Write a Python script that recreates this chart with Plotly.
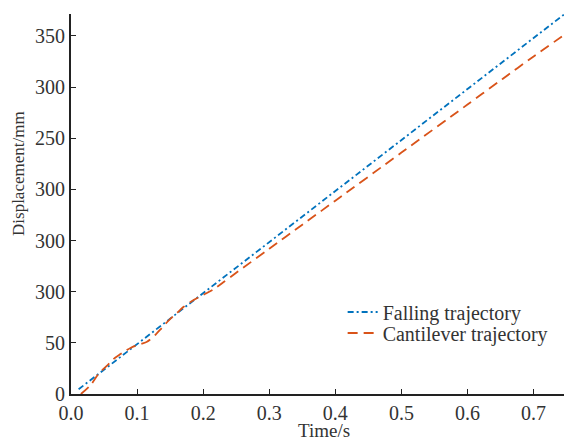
import plotly.graph_objects as go

# Falling trajectory (blue, dash-dot)
fall_t = [0.0115, 0.05, 0.1, 0.15, 0.2, 0.3, 0.4, 0.5, 0.6, 0.7, 0.746]
fall_y = [4.6, 23.8, 48.8, 73.7, 98.6, 148.5, 198.4, 248.3, 298.2, 348.1, 371]

# Cantilever trajectory (red, dashed)
cant_t = [0.015, 0.03, 0.042, 0.055, 0.064, 0.075, 0.082, 0.09, 0.097, 0.106, 0.115,
          0.1275, 0.138, 0.148, 0.16, 0.17, 0.182, 0.193, 0.205, 0.216, 0.23, 0.25,
          0.3, 0.35, 0.4, 0.5, 0.6, 0.653, 0.7, 0.746]
cant_y = [0, 9, 20, 28, 34, 39, 42, 45, 47, 49, 51,
          57.7, 65, 72, 79, 85, 90.5, 94.5, 98.5, 102.5, 109, 118.5,
          142, 165.5, 189, 236, 283, 308, 330, 351]

x_ticks = [0.0, 0.1, 0.2, 0.3, 0.4, 0.5, 0.6, 0.7]
x_labels = ["0.0", "0.1", "0.2", "0.3", "0.4", "0.5", "0.6", "0.7"]
y_ticks = [0, 50, 100, 150, 200, 250, 300, 350]
y_labels = ["0", "50", "300", "300", "300", "250", "300", "350"]

x_title = "Time/s"
y_title = "Displacement/mm"

font = "Liberation Serif, Times New Roman, serif"
txt = "#333"

fig = go.Figure()
fig.add_trace(go.Scatter(x=fall_t, y=fall_y, mode="lines", name="Falling trajectory",
                         legend="legend",
                         line=dict(color="#0072BD", width=1.8, dash="6px,3px,2px,3px")))
fig.add_trace(go.Scatter(x=cant_t, y=cant_y, mode="lines", name="Cantilever trajectory",
                         legend="legend2",
                         line=dict(color="#D95319", width=1.8, dash="10px,6px", shape="spline",
                                   smoothing=0.8)))

axis_common = dict(showgrid=False, zeroline=False, showline=True, linecolor="#222",
                   linewidth=2, ticks="inside", ticklen=5, tickwidth=1, tickcolor="#222",
                   automargin=False,
                   tickfont=dict(family=font, size=20, color=txt))

leg_common = dict(xanchor="left", yanchor="middle", bgcolor="rgba(0,0,0,0)",
                  font=dict(family=font, size=20, color=txt), borderwidth=0)

fig.update_layout(
    width=564, height=441,
    margin=dict(l=71, r=0, t=14, b=47),
    paper_bgcolor="white", plot_bgcolor="white",
    font=dict(family=font, size=18, color=txt),
    xaxis=dict(range=[0, 0.746], tickvals=x_ticks, ticktext=x_labels, **axis_common),
    yaxis=dict(range=[0, 371.5], tickvals=y_ticks, ticktext=y_labels, **axis_common),
    legend=dict(x=0.551, y=0.2158, **leg_common),
    legend2=dict(x=0.551, y=0.1605, **leg_common),
    showlegend=True,
    annotations=[
        dict(text=x_title, xref="paper", yref="paper", x=0.513, y=-0.0965,
             xanchor="center", yanchor="middle", showarrow=False,
             font=dict(family=font, size=19, color=txt)),
        dict(text=y_title, xref="paper", yref="paper", x=-0.1055, y=0.5816,
             xanchor="center", yanchor="middle", showarrow=False, textangle=-90,
             font=dict(family=font, size=17, color=txt)),
    ],
)

fig.write_html("out.html", config={"displayModeBar": False},
               post_script="document.body.style.margin='0';document.body.style.padding='0';")
